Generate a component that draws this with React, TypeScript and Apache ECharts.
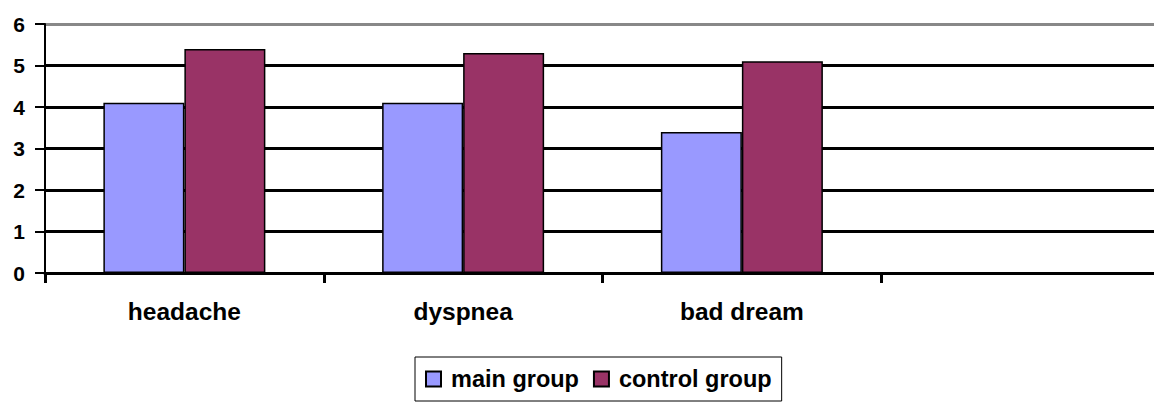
import React, { useEffect, useRef } from "react";
import * as echarts from "echarts";

const categories = ["headache", "dyspnea", "bad dream", ""];
const mainGroup = [4.1, 4.1, 3.4, null];
const controlGroup = [5.4, 5.3, 5.1, null];
const seriesNames = ["main group", "control group"];
const yTicks = { min: 0, max: 6, interval: 1 };

export default function App() {
  const ref = useRef<HTMLDivElement>(null);
  useEffect(() => {
    if (!ref.current) return;
    const chart = echarts.init(ref.current, null, { renderer: "svg" });
    const font = "'Liberation Sans', Arial, sans-serif";
    chart.setOption({
      animation: false,
      backgroundColor: "#fff",
      grid: { left: 45, top: 24, width: 1115, height: 249, containLabel: false, outerBoundsMode: "none" },
      legend: {
        left: 415,
        top: 357,
        padding: [10, 10, 10, 10],
        itemWidth: 15,
        itemHeight: 15,
        itemGap: 14,
        borderColor: "#000",
        borderWidth: 1,
        icon: "rect",
        data: seriesNames,
        textStyle: { fontFamily: font, fontSize: 23.5, fontWeight: "bold", color: "#000", padding: [0, 0, 0, 5] },
      },
      xAxis: {
        type: "category",
        data: categories,
        boundaryGap: true,
        axisLine: { show: true, lineStyle: { color: "#000", width: 3 } },
        axisTick: { show: true, alignWithLabel: false, length: 10, lineStyle: { color: "#000", width: 3 } },
        axisLabel: { fontFamily: font, fontSize: 24.5, fontWeight: "bold", color: "#000", margin: 26 },
        splitLine: { show: false },
      },
      yAxis: {
        type: "value",
        min: yTicks.min,
        max: yTicks.max,
        interval: yTicks.interval,
        axisLine: { show: true, lineStyle: { color: "#000", width: 2 } },
        axisTick: { show: true, length: 10, lineStyle: { color: "#000", width: 2 } },
        axisLabel: { fontFamily: font, fontSize: 21, fontWeight: "bold", color: "#000", margin: 20 },
        splitLine: {
          show: true,
          lineStyle: { color: ["#000", "#000", "#000", "#000", "#000", "#000", "#888"], width: 3 },
        },
      },
      series: [
        {
          name: seriesNames[0],
          type: "bar",
          data: mainGroup,
          barWidth: 81,
          barGap: "0%",
          itemStyle: { color: "#9999FF", borderColor: "#000", borderWidth: 1.5 },
        },
        {
          name: seriesNames[1],
          type: "bar",
          data: controlGroup,
          barWidth: 81,
          barGap: "0%",
          itemStyle: { color: "#993366", borderColor: "#000", borderWidth: 1.5 },
        },
      ],
    });
    return () => chart.dispose();
  }, []);
  return (
    <div
      ref={ref}
      style={{ position: "absolute", left: 0, top: 0, width: 1154, height: 404, background: "#fff" }}
    />
  );
}
